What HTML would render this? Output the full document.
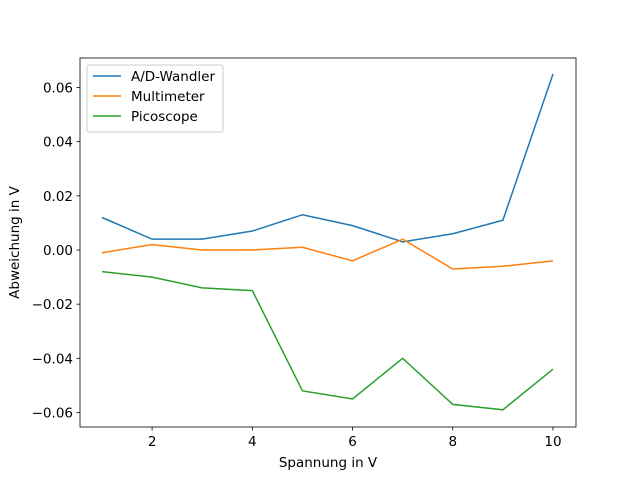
<!DOCTYPE html>
<html><head><meta charset="utf-8"><style>body{margin:0;background:#fff}svg{display:block;font-family:"DejaVu Sans","Liberation Sans",sans-serif}</style></head>
<body>
<svg id="chart" width="640" height="480"></svg>
<script>
const xValues=[1,2,3,4,5,6,7,8,9,10];
const adWandler=[0.012,0.004,0.004,0.007,0.013,0.009,0.003,0.006,0.011,0.065];
const multimeter=[-0.001,0.002,0.000,0.000,0.001,-0.004,0.004,-0.007,-0.006,-0.004];
const picoscope=[-0.008,-0.010,-0.014,-0.015,-0.052,-0.055,-0.040,-0.057,-0.059,-0.044];
const seriesNames=["A/D-Wandler","Multimeter","Picoscope"];
const xTicks=[2,4,6,8,10];
const yTicks=[-0.06,-0.04,-0.02,0.00,0.02,0.04,0.06];
const colors=["#1f77b4","#ff7f0e","#2ca02c"];
const L=80,R=576,T=58,B=427;
const FS=13.5;
const x=v=>102+(v-1)*50.11;
const ys=v=>250-v*(162.5/0.06);
const svg=document.getElementById('chart');
const NS='http://www.w3.org/2000/svg';
function mk(t,a,txt){const e=document.createElementNS(NS,t);for(const k in a)e.setAttribute(k,a[k]);if(txt!=null)e.textContent=txt;svg.appendChild(e);return e;}
[adWandler,multimeter,picoscope].forEach((s,i)=>{
 const p=mk('polyline',{points:s.map((v,j)=>x(xValues[j])+','+ys(v)).join(' '),fill:'none',stroke:colors[i],'stroke-width':1.5});
 
 
});
const fr=mk('rect',{x:L,y:T,width:R-L,height:B-T,fill:'none',stroke:'#000','stroke-width':0.8});

xTicks.forEach(t=>{mk('line',{x1:x(t),x2:x(t),y1:B,y2:B+3.5,stroke:'#000','stroke-width':0.8});
 const e=mk('text',{x:x(t),y:B+19,'font-size':FS,'text-anchor':'middle'},String(t));
 });
yTicks.forEach(t=>{mk('line',{x1:L-3.5,x2:L,y1:ys(t),y2:ys(t),stroke:'#000','stroke-width':0.8});
 const e=mk('text',{x:L-7,y:ys(t)+5,'font-size':FS,'text-anchor':'end'},t.toFixed(2).replace('-','−'));
 });
const xt=mk('text',{x:(L+R)/2,y:467,'font-size':FS,'text-anchor':'middle'},'Spannung in V');

const yt=mk('text',{x:19,y:(T+B)/2,'font-size':FS,'text-anchor':'middle',transform:'rotate(-90 19 '+((T+B)/2)+')'},'Abweichung in V');

const lg=mk('rect',{x:87,y:65,width:136,height:67,fill:'#fff',stroke:'#ccc',rx:2});

seriesNames.forEach((n,i)=>{const yy=76+i*20;
 mk('line',{x1:93,x2:121,y1:yy,y2:yy,stroke:colors[i],'stroke-width':1.5});
 const e=mk('text',{x:131,y:yy+5,'font-size':FS},n);
 });
</script>
</body></html>
